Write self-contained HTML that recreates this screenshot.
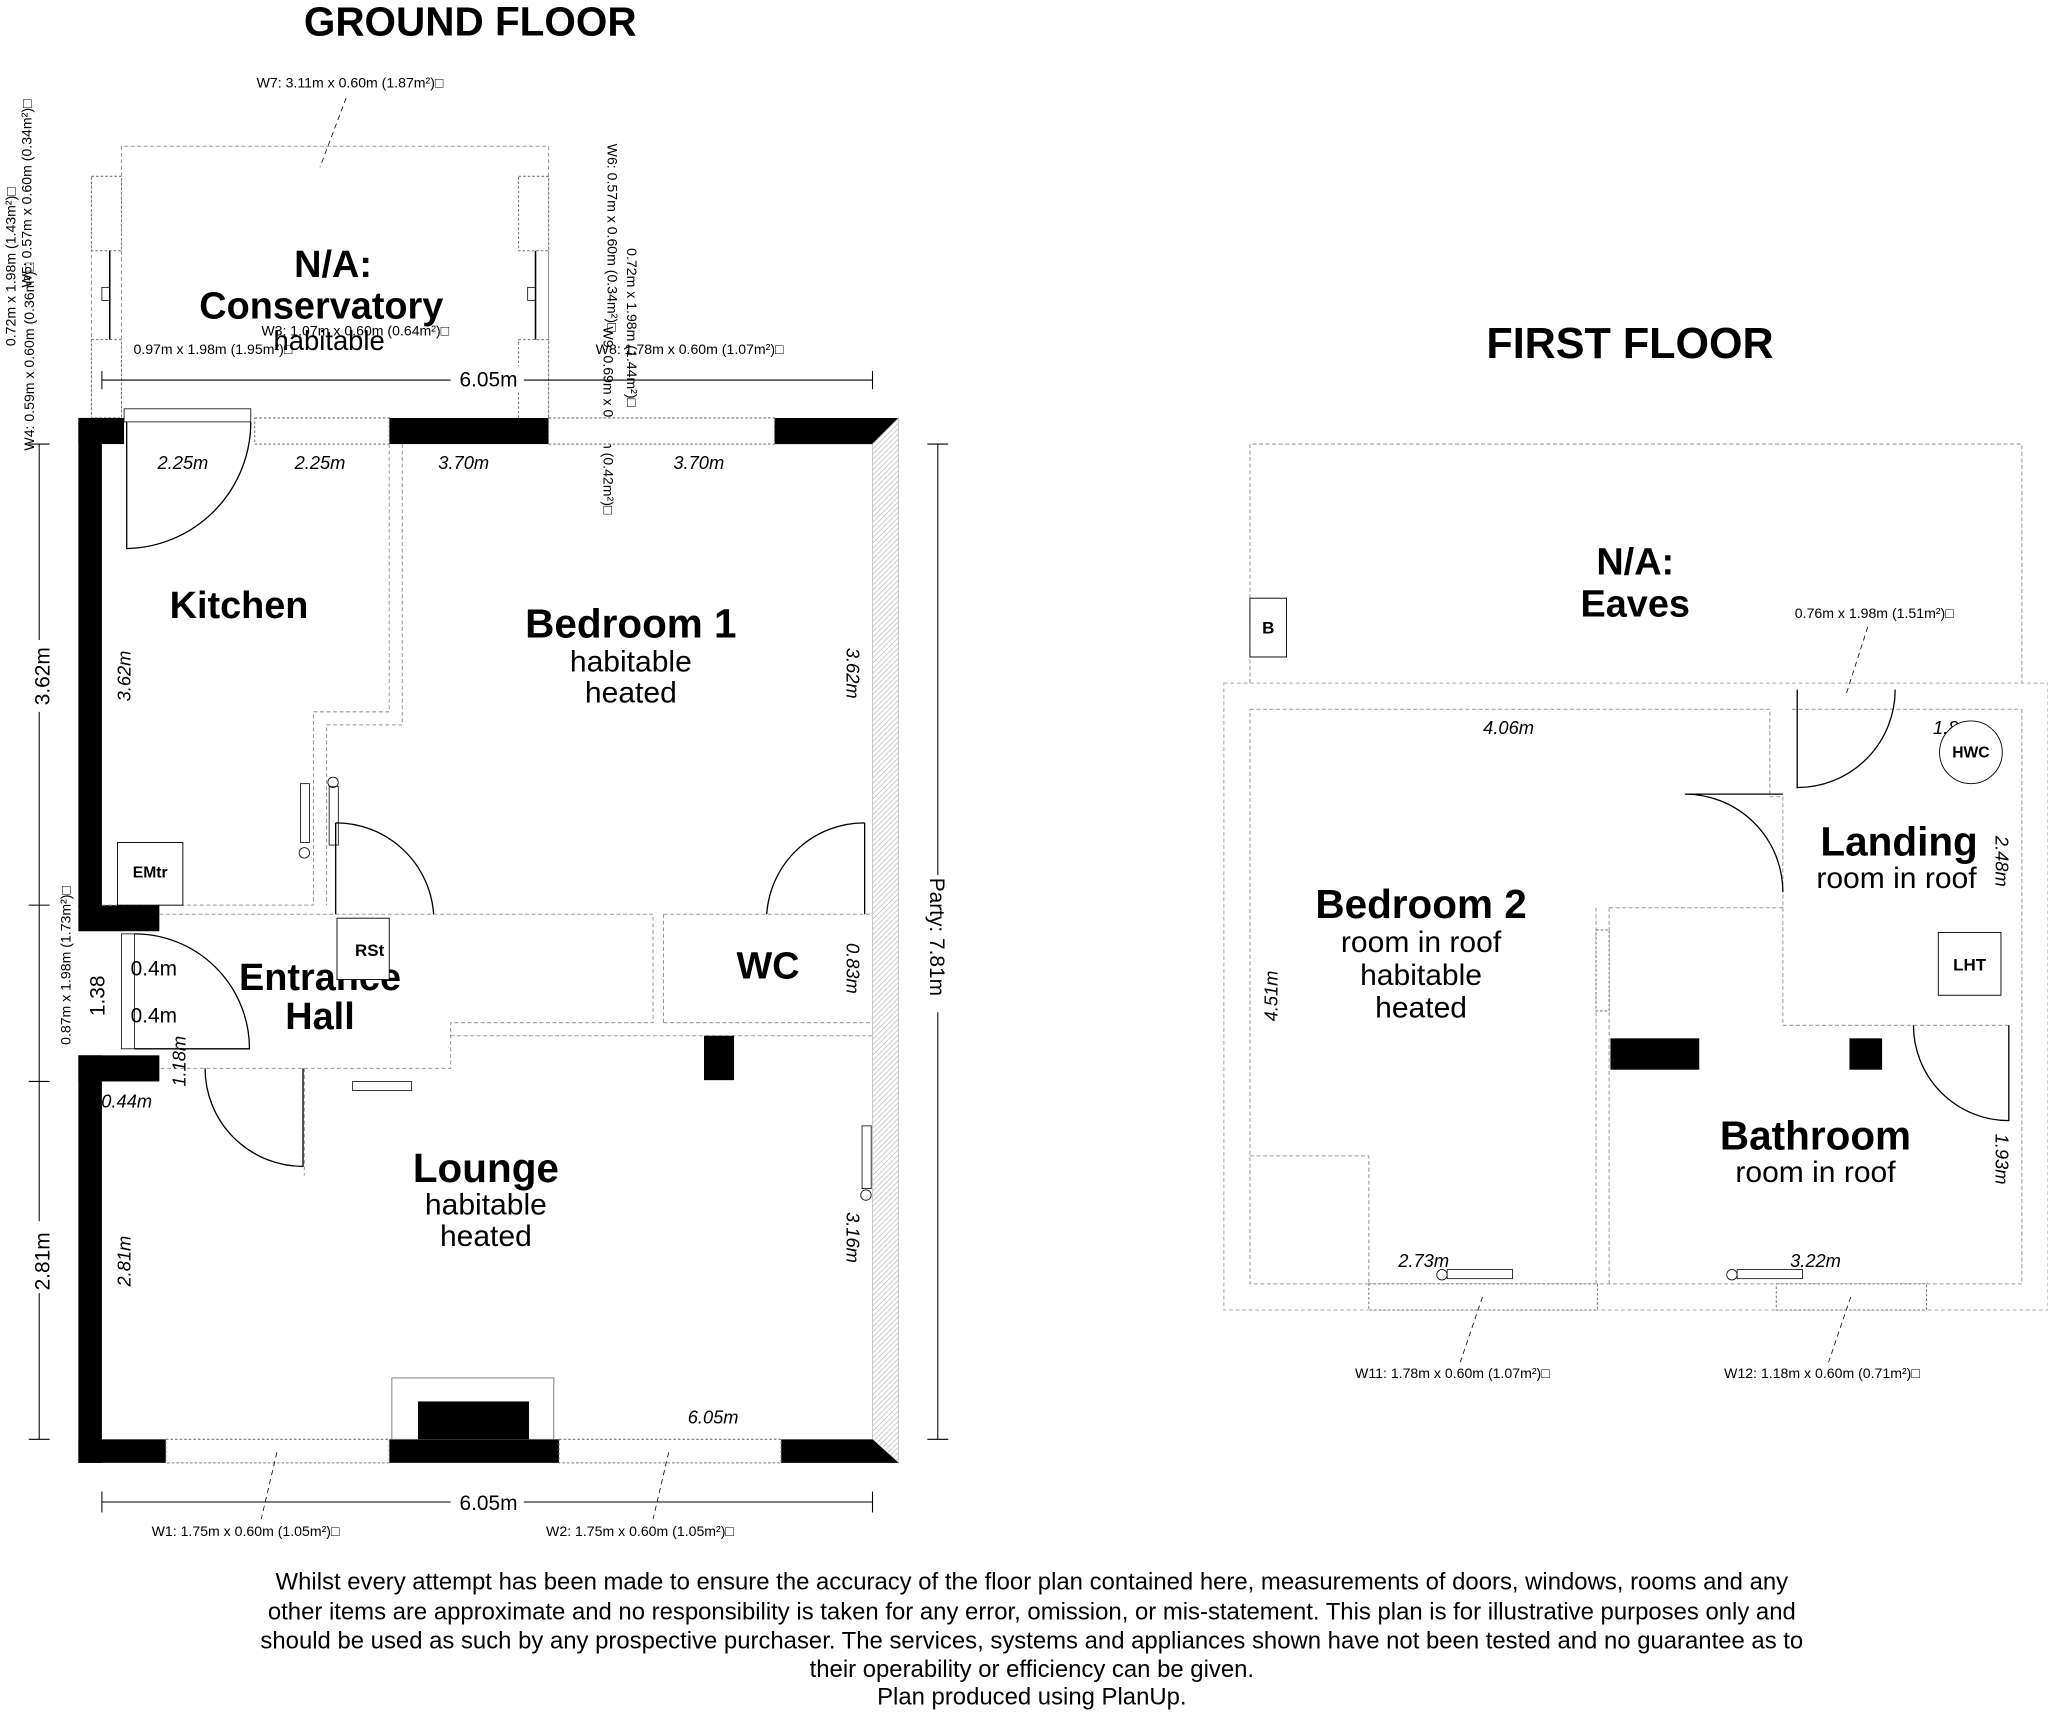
<!DOCTYPE html>
<html><head><meta charset="utf-8"><style>
html,body{margin:0;padding:0;background:#fff}
svg{display:block}
text{font-family:"Liberation Sans",sans-serif}
.b{font-weight:bold}
.sm{font-size:10.8px}
.w{fill:#fff;stroke:#777;stroke-width:0.8;stroke-dasharray:2,1.5}
.iw{fill:none;stroke:#999;stroke-width:0.8;stroke-dasharray:3,2}
.d{fill:none;stroke:#000;stroke-width:1}
.dl{fill:none;stroke:#000;stroke-width:0.6;stroke-dasharray:4,3}
.dim{stroke:#000;stroke-width:0.8}
</style></head><body>
<svg width="2048" height="1714" viewBox="0 0 1568 1312.3" xmlns="http://www.w3.org/2000/svg">
<defs><pattern id="h" width="4" height="4" patternUnits="userSpaceOnUse"><path d="M0,4L4,0" stroke="#bbb" stroke-width="0.6"/></pattern></defs>
<text x="360" y="27" class="b" font-size="31" text-anchor="middle">GROUND FLOOR</text>
<text x="1248" y="274" class="b" font-size="33" text-anchor="middle">FIRST FLOOR</text>

<!-- Conservatory -->
<path class="iw" d="M93,320V112H420V320 M70,135V320 M420,135V320"/>
<rect class="w" x="70" y="135" width="23" height="57"/>
<rect class="w" x="70" y="260" width="23" height="60"/>
<rect class="w" x="397" y="135" width="23" height="57"/>
<rect class="w" x="397" y="260" width="23" height="70"/>
<rect x="78" y="220" width="6" height="10" fill="none" stroke="#000" stroke-width="0.6"/>
<rect x="404" y="220" width="6" height="10" fill="none" stroke="#000" stroke-width="0.6"/>
<line x1="84" y1="192" x2="84" y2="260" stroke="#000" stroke-width="1.2"/>
<line x1="410" y1="192" x2="410" y2="260" stroke="#000" stroke-width="1.2"/>
<text x="255" y="212" class="b" font-size="29" text-anchor="middle">N/A:</text>
<text x="246" y="244" class="b" font-size="29" text-anchor="middle">Conservatory</text>
<text x="252" y="268" font-size="21" text-anchor="middle">habitable</text>
<text x="268" y="67" class="sm" text-anchor="middle">W7: 3.11m x 0.60m (1.87m²)□</text>
<line class="dl" x1="265" y1="75" x2="245" y2="128"/>
<line class="dim" x1="78" y1="291" x2="668" y2="291"/><line class="dim" x1="78" y1="284" x2="78" y2="298"/><line class="dim" x1="668" y1="284" x2="668" y2="298"/>
<rect x="345" y="280" width="56" height="20" fill="#fff"/><text x="374" y="296" font-size="16" text-anchor="middle">6.05m</text>
<text x="163" y="271" class="sm" text-anchor="middle">0.97m x 1.98m (1.95m²)□</text>
<text x="272" y="257" class="sm" text-anchor="middle">W3: 1.07m x 0.60m (0.64m²)□</text>
<text x="528" y="271" class="sm" text-anchor="middle">W8: 1.78m x 0.60m (1.07m²)□</text>
<text transform="translate(26,345) rotate(-90)" class="sm">W4: 0.59m x 0.60m (0.36m²)□</text>
<text transform="translate(12,265) rotate(-90)" class="sm">0.72m x 1.98m (1.43m²)□</text>
<text transform="translate(24,220) rotate(-90)" class="sm">W5: 0.57m x 0.60m (0.34m²)□</text>
<text transform="translate(465,110) rotate(90)" class="sm">W6: 0.57m x 0.60m (0.34m²)□</text>
<text transform="translate(480,190) rotate(90)" class="sm">0.72m x 1.98m (1.44m²)□</text>
<text transform="translate(462,250) rotate(90)" class="sm">W9: 0.69m x 0.60m (0.42m²)□</text>

<!-- outer walls ground -->
<rect x="60" y="320" width="35" height="20" fill="#000"/>
<rect x="60" y="320" width="18" height="375" fill="#000"/>
<rect x="60" y="693" width="62" height="20" fill="#000"/>
<rect x="60" y="808" width="62" height="20" fill="#000"/>
<rect x="60" y="808" width="18" height="312" fill="#000"/>
<rect x="298" y="320" width="122" height="20" fill="#000"/>
<polygon points="593,320 688,320 668,340 593,340" fill="#000"/>
<polygon points="668,340 688,320 688,1120 668,1102" fill="url(#h)" stroke="#bbb" stroke-width="0.6"/>
<rect x="60" y="1102" width="67" height="18" fill="#000"/>
<rect x="298" y="1102" width="130" height="18" fill="#000"/>
<polygon points="598,1102 668,1102 688,1120 598,1120" fill="#000"/>
<rect class="w" x="195" y="320" width="103" height="20"/>
<rect class="w" x="420" y="320" width="173" height="20"/>
<rect class="w" x="127" y="1102" width="171" height="18"/>
<rect class="w" x="428" y="1102" width="170" height="18"/>
<rect x="95" y="313" width="97" height="10" fill="#fff" stroke="#000" stroke-width="0.6"/>
<path class="d" d="M97,323V420A97,97 0 0 0 192,323"/>
<rect x="300" y="1055" width="124" height="47" fill="#fff" stroke="#777" stroke-width="0.7"/>
<rect x="320" y="1073" width="85" height="29" fill="#000"/>
<!-- interior -->
<path class="iw" d="M298,340V545H240V693 M308,340V555H250V693 M78,693H240 M122,700H500V783H345V818H122 M508,700H668 M508,783H668 M508,700V783 M345,793H668 M233,818V900"/>
<rect x="93" y="715" width="10" height="88" fill="#fff" stroke="#000" stroke-width="0.6"/>
<path class="d" d="M103,715A88,88 0 0 1 191,803H103"/>
<path class="d" d="M157,818A75,75 0 0 0 232,893V818"/>
<rect x="230" y="600" width="7" height="45" fill="#fff" stroke="#000" stroke-width="0.6"/>
<circle cx="233" cy="653" r="4" fill="none" stroke="#000" stroke-width="0.6"/>
<rect x="252" y="602" width="7" height="45" fill="#fff" stroke="#000" stroke-width="0.6"/>
<circle cx="255" cy="599" r="4" fill="none" stroke="#000" stroke-width="0.6"/>
<path class="d" d="M257,630V700 M257,630A75,75 0 0 1 332,700"/>
<path class="d" d="M662,630V700 M662,630A75,75 0 0 0 587,700"/>
<rect x="539" y="793" width="23" height="34" fill="#000"/>
<rect x="270" y="828" width="45" height="7" fill="#fff" stroke="#000" stroke-width="0.6"/>
<rect x="660" y="862" width="7" height="48" fill="#fff" stroke="#000" stroke-width="0.6"/>
<circle cx="663" cy="915" r="4" fill="none" stroke="#000" stroke-width="0.6"/>
<rect x="90" y="645" width="50" height="48" fill="#fff" stroke="#000" stroke-width="0.7"/>
<text x="115" y="672" class="b" font-size="12" text-anchor="middle">EMtr</text>
<text x="183" y="473" class="b" font-size="29" text-anchor="middle">Kitchen</text>
<text x="483" y="488" class="b" font-size="31" text-anchor="middle">Bedroom 1</text>
<text x="483" y="514" font-size="23" text-anchor="middle">habitable</text>
<text x="483" y="538" font-size="23" text-anchor="middle">heated</text>
<text x="245" y="758" class="b" font-size="29" text-anchor="middle">Entrance</text>
<text x="245" y="788" class="b" font-size="29" text-anchor="middle">Hall</text>
<rect x="258" y="703" width="40" height="47" fill="#fff" stroke="#000" stroke-width="0.7"/>
<text x="283" y="732" class="b" font-size="13" text-anchor="middle">RSt</text>
<text x="588" y="749" class="b" font-size="29" text-anchor="middle">WC</text>
<text x="372" y="905" class="b" font-size="31" text-anchor="middle">Lounge</text>
<text x="372" y="930" font-size="23" text-anchor="middle">habitable</text>
<text x="372" y="954" font-size="23" text-anchor="middle">heated</text>
<g font-size="14" font-style="italic">
<text x="140" y="359" text-anchor="middle">2.25m</text>
<text x="245" y="359" text-anchor="middle">2.25m</text>
<text x="355" y="359" text-anchor="middle">3.70m</text>
<text x="535" y="359" text-anchor="middle">3.70m</text>
<text x="546" y="1090" text-anchor="middle">6.05m</text>
<text x="97" y="848" text-anchor="middle">0.44m</text>
<text transform="translate(100,537) rotate(-90)">3.62m</text>
<text transform="translate(100,985) rotate(-90)">2.81m</text>
<text transform="translate(142,832) rotate(-90)">1.18m</text>
<text transform="translate(648,496) rotate(90)">3.62m</text>
<text transform="translate(648,722) rotate(90)">0.83m</text>
<text transform="translate(648,928) rotate(90)">3.16m</text>
</g>
<text x="100" y="747" font-size="16">0.4m</text><text x="100" y="783" font-size="16">0.4m</text>
<text transform="translate(54,800) rotate(-90)" class="sm">0.87m x 1.98m (1.73m²)□</text>
<!-- dims -->
<g class="dim"><line x1="30" y1="340" x2="30" y2="1102"/><line x1="22" y1="340" x2="38" y2="340"/><line x1="22" y1="693" x2="38" y2="693"/><line x1="22" y1="828" x2="38" y2="828"/><line x1="22" y1="1102" x2="38" y2="1102"/>
<line x1="718" y1="340" x2="718" y2="1102"/><line x1="710" y1="340" x2="726" y2="340"/><line x1="710" y1="1102" x2="726" y2="1102"/>
<line x1="78" y1="1150" x2="668" y2="1150"/><line x1="78" y1="1142" x2="78" y2="1158"/><line x1="668" y1="1142" x2="668" y2="1158"/></g>
<rect x="20" y="490" width="22" height="55" fill="#fff"/><text transform="translate(38,540) rotate(-90)" font-size="16">3.62m</text>
<rect x="20" y="935" width="22" height="55" fill="#fff"/><text transform="translate(38,988) rotate(-90)" font-size="16">2.81m</text>
<rect x="65" y="740" width="20" height="40" fill="#fff"/><text transform="translate(80,778) rotate(-90)" font-size="16">1.38</text>
<rect x="708" y="670" width="22" height="105" fill="#fff"/><text transform="translate(712,672) rotate(90)" font-size="16">Party: 7.81m</text>
<rect x="345" y="1140" width="56" height="20" fill="#fff"/><text x="374" y="1156" font-size="16" text-anchor="middle">6.05m</text>
<text x="188" y="1176" class="sm" text-anchor="middle">W1: 1.75m x 0.60m (1.05m²)□</text>
<text x="490" y="1176" class="sm" text-anchor="middle">W2: 1.75m x 0.60m (1.05m²)□</text>
<line class="dl" x1="212" y1="1112" x2="200" y2="1163"/><line class="dl" x1="512" y1="1112" x2="500" y2="1163"/>

<!-- FIRST FLOOR -->
<path class="iw" d="M957,523V340H1548V523"/>
<polygon points="937,523 1568,523 1568,1003 937,1003" fill="none" stroke="#aaa" stroke-width="0.8" stroke-dasharray="3,2"/>
<path class="iw" d="M957,543H1355V610H1365V785H1540 M1548,543V983H957V543 M1372,543H1548 M1232,695H1365 M1222,695V983 M1232,785V983 M1232,695V785 M957,885H1048V983"/>
<rect x="1048" y="983" width="175" height="20" class="w"/>
<rect x="1360" y="983" width="115" height="20" class="w"/>
<rect x="1222" y="712" width="10" height="62" class="w"/>
<text x="1252" y="440" class="b" font-size="29" text-anchor="middle">N/A:</text>
<text x="1252" y="472" class="b" font-size="29" text-anchor="middle">Eaves</text>
<rect x="957" y="458" width="28" height="45" fill="#fff" stroke="#000" stroke-width="0.7"/>
<text x="971" y="485" class="b" font-size="13" text-anchor="middle">B</text>
<text x="1435" y="473" class="sm" text-anchor="middle">0.76m x 1.98m (1.51m²)□</text>
<line class="dl" x1="1430" y1="480" x2="1413" y2="533"/>
<path class="d" d="M1376,528V603A75,75 0 0 0 1451,528"/>
<path class="d" d="M1365,608H1290A75,75 0 0 1 1365,683"/>
<path class="d" d="M1538,785V858A73,73 0 0 1 1465,785"/>
<text x="1480" y="562" font-size="14" font-style="italic">1.8</text>
<circle cx="1509" cy="576" r="24" fill="#fff" stroke="#000" stroke-width="0.7"/>
<text x="1509" y="580" class="b" font-size="12" text-anchor="middle">HWC</text>
<rect x="1484" y="714" width="48" height="48" fill="#fff" stroke="#000" stroke-width="0.7"/>
<text x="1508" y="743" class="b" font-size="13" text-anchor="middle">LHT</text>
<rect x="1233" y="795" width="68" height="24" fill="#000"/>
<rect x="1416" y="795" width="25" height="24" fill="#000"/>
<rect x="1108" y="972" width="50" height="7" fill="#fff" stroke="#000" stroke-width="0.6"/><circle cx="1104" cy="976" r="4" fill="none" stroke="#000" stroke-width="0.6"/>
<rect x="1330" y="972" width="50" height="7" fill="#fff" stroke="#000" stroke-width="0.6"/><circle cx="1326" cy="976" r="4" fill="none" stroke="#000" stroke-width="0.6"/>
<text x="1088" y="703" class="b" font-size="31" text-anchor="middle">Bedroom 2</text>
<text x="1088" y="729" font-size="23" text-anchor="middle">room in roof</text>
<text x="1088" y="754" font-size="23" text-anchor="middle">habitable</text>
<text x="1088" y="779" font-size="23" text-anchor="middle">heated</text>
<text x="1454" y="655" class="b" font-size="31" text-anchor="middle">Landing</text>
<text x="1452" y="680" font-size="23" text-anchor="middle">room in roof</text>
<text x="1390" y="880" class="b" font-size="31" text-anchor="middle">Bathroom</text>
<text x="1390" y="905" font-size="23" text-anchor="middle">room in roof</text>
<g font-size="14" font-style="italic">
<text x="1155" y="562" text-anchor="middle">4.06m</text>
<text x="1090" y="970" text-anchor="middle">2.73m</text>
<text x="1390" y="970" text-anchor="middle">3.22m</text>
<text transform="translate(978,782) rotate(-90)">4.51m</text>
<text transform="translate(1528,640) rotate(90)">2.48m</text>
<text transform="translate(1528,868) rotate(90)">1.93m</text>
</g>
<text x="1112" y="1055" class="sm" text-anchor="middle">W11: 1.78m x 0.60m (1.07m²)□</text>
<text x="1395" y="1055" class="sm" text-anchor="middle">W12: 1.18m x 0.60m (0.71m²)□</text>
<line class="dl" x1="1135" y1="993" x2="1118" y2="1043"/><line class="dl" x1="1417" y1="993" x2="1400" y2="1043"/>

<g font-size="18.3" text-anchor="middle">
<text x="790" y="1217">Whilst every attempt has been made to ensure the accuracy of the floor plan contained here, measurements of doors, windows, rooms and any</text>
<text x="790" y="1240">other items are approximate and no responsibility is taken for any error, omission, or mis-statement. This plan is for illustrative purposes only and</text>
<text x="790" y="1262">should be used as such by any prospective purchaser. The services, systems and appliances shown have not been tested and no guarantee as to</text>
<text x="790" y="1284">their operability or efficiency can be given.</text>
<text x="790" y="1305">Plan produced using PlanUp.</text>
</g>
</svg>
</body></html>
